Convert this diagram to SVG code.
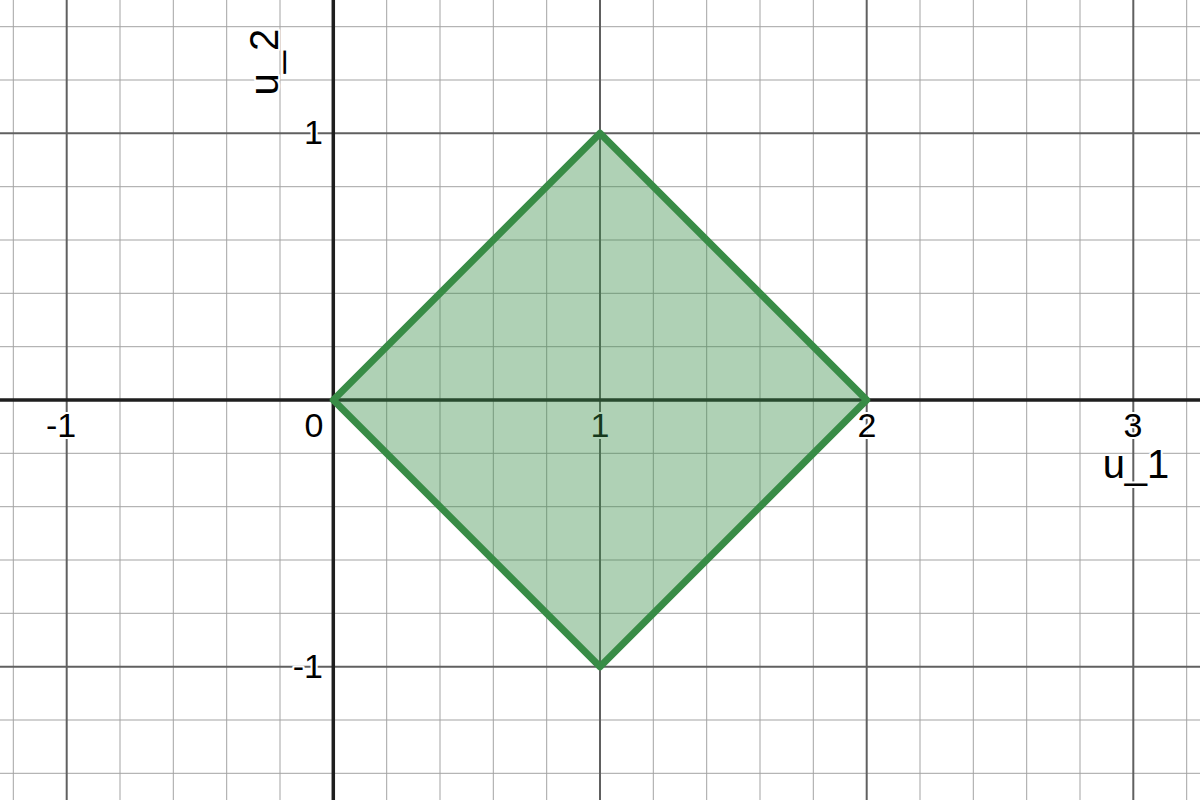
<svg xmlns="http://www.w3.org/2000/svg" width="1200" height="800" viewBox="0 0 1200 800">
<style>
.minor{stroke:#a3a3a3;stroke-width:1}
.major{stroke:#606060;stroke-width:2}
.axis{stroke:#1e1e1e;stroke-width:3.5}
.tick{font-family:"Liberation Sans",Arial,sans-serif;font-size:34px;fill:#000;stroke:#fff;stroke-width:4;paint-order:stroke;stroke-linejoin:round}
.lbl{font-family:"Liberation Sans",Arial,sans-serif;font-size:40px;fill:#000;stroke:#fff;stroke-width:4;paint-order:stroke;stroke-linejoin:round}
</style>
<rect width="1200" height="800" fill="#fff"/>
<g id="grid-minor" class="minor">
<line x1="13.3" y1="0" x2="13.3" y2="800"/>
<line x1="120" y1="0" x2="120" y2="800"/>
<line x1="173.3" y1="0" x2="173.3" y2="800"/>
<line x1="226.7" y1="0" x2="226.7" y2="800"/>
<line x1="280" y1="0" x2="280" y2="800"/>
<line x1="386.7" y1="0" x2="386.7" y2="800"/>
<line x1="440" y1="0" x2="440" y2="800"/>
<line x1="493.3" y1="0" x2="493.3" y2="800"/>
<line x1="546.7" y1="0" x2="546.7" y2="800"/>
<line x1="653.3" y1="0" x2="653.3" y2="800"/>
<line x1="706.7" y1="0" x2="706.7" y2="800"/>
<line x1="760" y1="0" x2="760" y2="800"/>
<line x1="813.3" y1="0" x2="813.3" y2="800"/>
<line x1="920" y1="0" x2="920" y2="800"/>
<line x1="973.3" y1="0" x2="973.3" y2="800"/>
<line x1="1026.7" y1="0" x2="1026.7" y2="800"/>
<line x1="1080" y1="0" x2="1080" y2="800"/>
<line x1="1186.7" y1="0" x2="1186.7" y2="800"/>
<line x1="0" y1="26.7" x2="1200" y2="26.7"/>
<line x1="0" y1="80" x2="1200" y2="80"/>
<line x1="0" y1="186.7" x2="1200" y2="186.7"/>
<line x1="0" y1="240" x2="1200" y2="240"/>
<line x1="0" y1="293.3" x2="1200" y2="293.3"/>
<line x1="0" y1="346.7" x2="1200" y2="346.7"/>
<line x1="0" y1="453.3" x2="1200" y2="453.3"/>
<line x1="0" y1="506.7" x2="1200" y2="506.7"/>
<line x1="0" y1="560" x2="1200" y2="560"/>
<line x1="0" y1="613.3" x2="1200" y2="613.3"/>
<line x1="0" y1="720" x2="1200" y2="720"/>
<line x1="0" y1="773.3" x2="1200" y2="773.3"/>
</g>
<g id="grid-major" class="major">
<line x1="66.7" y1="0" x2="66.7" y2="800"/>
<line x1="600" y1="0" x2="600" y2="800"/>
<line x1="866.7" y1="0" x2="866.7" y2="800"/>
<line x1="1133.3" y1="0" x2="1133.3" y2="800"/>
<line x1="0" y1="133.3" x2="1200" y2="133.3"/>
<line x1="0" y1="666.7" x2="1200" y2="666.7"/>
</g>
<g id="axes" class="axis">
<line x1="333.3" y1="0" x2="333.3" y2="800"/>
<line x1="0" y1="400" x2="1200" y2="400"/>
</g>
<g id="tick-labels" class="tick">
<text x="61" y="437" text-anchor="middle">-1</text>
<text x="314" y="437" text-anchor="middle">0</text>
<text x="600" y="437" text-anchor="middle">1</text>
<text x="867" y="437" text-anchor="middle">2</text>
<text x="1133" y="437" text-anchor="middle">3</text>
<text x="323" y="144" text-anchor="end">1</text>
<text x="323" y="678" text-anchor="end">-1</text>
</g>
<g id="axis-labels" class="lbl">
<text x="1136" y="478" text-anchor="middle">u_1</text>
<text transform="translate(278,62) rotate(-90)" text-anchor="middle">u_2</text>
</g>
<g id="region">
<polygon points="333.3,400 600,133.3 866.7,400 600,666.7" fill="#388c46" fill-opacity="0.4" stroke="#388c46" stroke-width="7" stroke-linejoin="round"/>
</g>
</svg>
